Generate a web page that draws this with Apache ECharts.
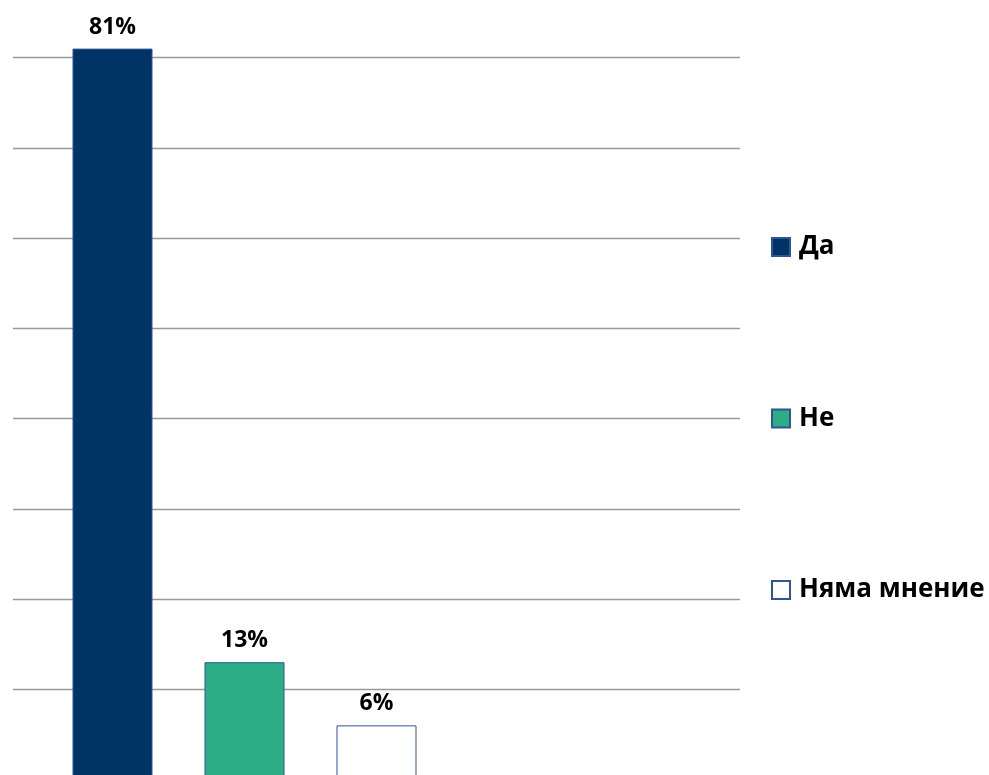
<!DOCTYPE html>
<html>
<head>
<meta charset="utf-8">
<script src="https://cdn.jsdelivr.net/npm/echarts@6/dist/echarts.min.js"></script>
<style>
  html, body { margin: 0; padding: 0; background: #fff; }
  #main { width: 989px; height: 775px; }
</style>
</head>
<body>
<div id="main"></div>
<script>
// данни
var seriesNames = ['Да', 'Не', 'Няма мнение'];
var seriesValues = [81, 13, 6];
var seriesColors = ['#003366', '#2bae85', '#ffffff'];
var yTicks = [0, 10, 20, 30, 40, 50, 60, 70, 80, 90];

var chart = echarts.init(document.getElementById('main'));

var series = seriesNames.map(function (name, i) {
    return {
        name: name,
        type: 'bar',
        xAxisIndex: 1,
        yAxisIndex: 1,
        data: [seriesValues[i]],
        barWidth: 80,
        barGap: '65%',
        itemStyle: {
            color: seriesColors[i],
            borderColor: '#2f5597',
            borderWidth: 1
        },
        label: {
            show: true,
            position: 'top',
            distance: 10,
            formatter: '{c}%',
            color: '#000',
            fontFamily: 'Open Sans',
            fontWeight: 'bold',
            fontSize: 23
        }
    };
});

var option = {
    animation: false,
    backgroundColor: '#fff',
    legend: {
        orient: 'vertical',
        left: 766,
        top: 229,
        icon: 'rect',
        itemWidth: 18,
        itemHeight: 18,
        itemGap: 145.5,
        data: seriesNames,
        textStyle: {
            color: '#000',
            fontFamily: 'Open Sans',
            fontWeight: 'bold',
            fontSize: 26,
            lineHeight: 18,
            padding: [0, 0, 0, 4]
        }
    },
    grid: [
        // линии на мрежата
        { left: 13, right: 249, top: -32.6, bottom: -4.5, outerBoundsMode: 'none' },
        // колони
        { left: 13, width: 463, top: -32.6, bottom: -4.5, outerBoundsMode: 'none' }
    ],
    xAxis: [
        { type: 'category', gridIndex: 0, data: [''], show: false },
        { type: 'category', gridIndex: 1, data: [''], show: false }
    ],
    yAxis: [
        {
            type: 'value', gridIndex: 0,
            min: yTicks[0], max: yTicks[yTicks.length - 1], interval: 10,
            axisLine: { show: false }, axisTick: { show: false }, axisLabel: { show: false },
            splitLine: { lineStyle: { color: '#999', width: 1.3 } }
        },
        {
            type: 'value', gridIndex: 1,
            min: yTicks[0], max: yTicks[yTicks.length - 1], interval: 10,
            show: false, splitLine: { show: false }
        }
    ],
    series: series
};

chart.setOption(option);
</script>
</body>
</html>
